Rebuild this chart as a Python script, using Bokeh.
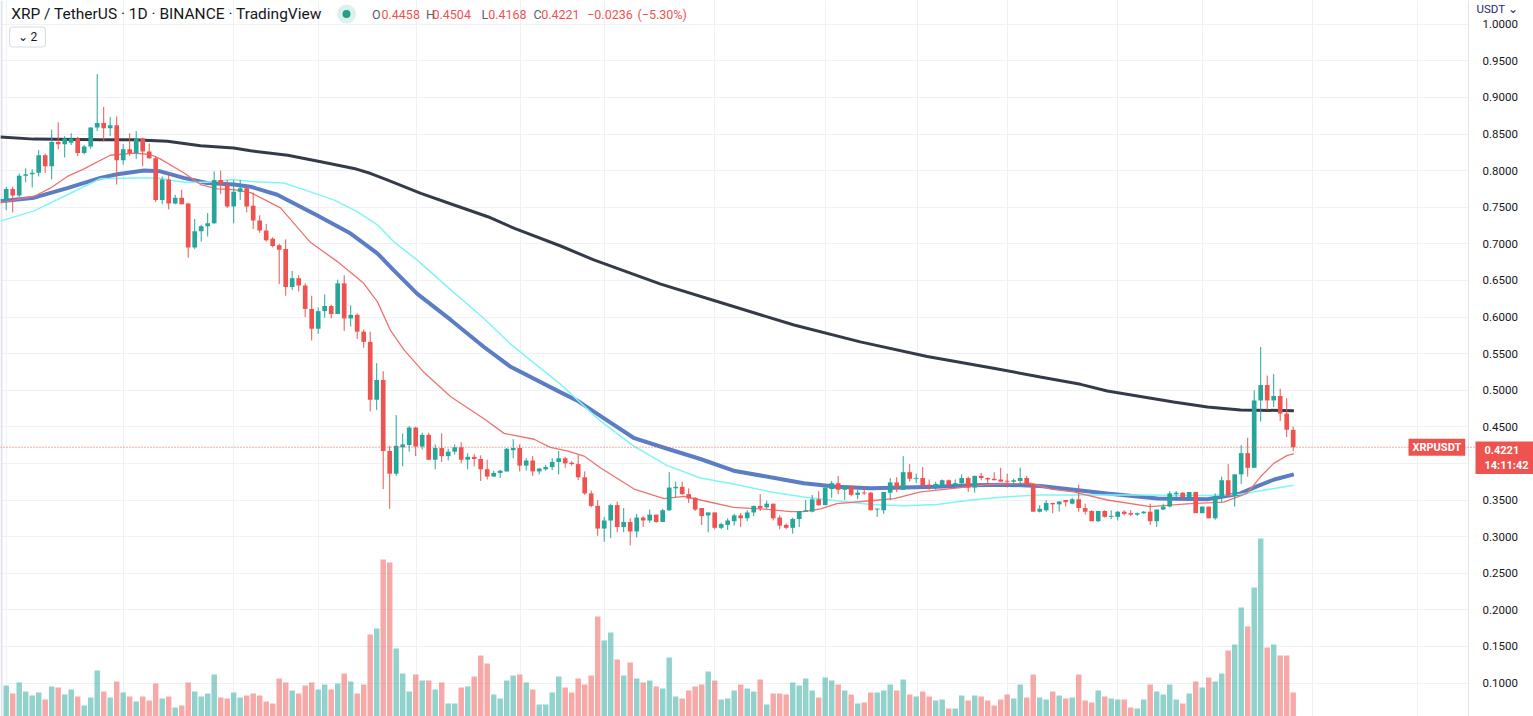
from bokeh.plotting import figure
from bokeh.models import (Range1d, FixedTicker, PrintfTickFormatter, Label, Span,
                          ColumnDataSource, Grid, LinearAxis, BoxAnnotation)
from bokeh.embed import file_html
from bokeh.resources import INLINE

# ---------------- data (daily candles, XRP/USDT) ----------------
opens = [
    0.759, 0.775, 0.766, 0.793, 0.795, 0.797, 0.821, 0.806, 0.839, 0.836,
    0.838, 0.844, 0.824, 0.833, 0.859, 0.865, 0.858, 0.862, 0.814, 0.829,
    0.824, 0.844, 0.826, 0.817, 0.760, 0.788, 0.755, 0.763, 0.755, 0.695,
    0.717, 0.724, 0.728, 0.787, 0.781, 0.751, 0.771, 0.776, 0.752, 0.732,
    0.718, 0.707, 0.698, 0.693, 0.641, 0.653, 0.643, 0.611, 0.584, 0.608,
    0.615, 0.604, 0.646, 0.598, 0.603, 0.580, 0.566, 0.487, 0.514, 0.417,
    0.386, 0.422, 0.425, 0.449, 0.423, 0.439, 0.405, 0.421, 0.410, 0.416,
    0.422, 0.405, 0.409, 0.406, 0.392, 0.382, 0.387, 0.389, 0.418, 0.421,
    0.397, 0.404, 0.389, 0.392, 0.395, 0.402, 0.407, 0.401, 0.399, 0.381,
    0.359, 0.342, 0.311, 0.322, 0.343, 0.313, 0.320, 0.307, 0.326, 0.322,
    0.330, 0.320, 0.336, 0.366, 0.368, 0.358, 0.353, 0.339, 0.329, 0.333,
    0.312, 0.316, 0.321, 0.329, 0.325, 0.333, 0.342, 0.340, 0.345, 0.326,
    0.316, 0.312, 0.324, 0.334, 0.334, 0.351, 0.343, 0.365, 0.373, 0.364,
    0.368, 0.357, 0.360, 0.360, 0.337, 0.336, 0.360, 0.374, 0.364, 0.388,
    0.379, 0.380, 0.371, 0.368, 0.370, 0.377, 0.370, 0.373, 0.380, 0.367,
    0.383, 0.380, 0.379, 0.378, 0.376, 0.375, 0.376, 0.380, 0.372, 0.334,
    0.336, 0.346, 0.344, 0.350, 0.345, 0.351, 0.339, 0.335, 0.321, 0.335,
    0.327, 0.327, 0.334, 0.332, 0.330, 0.332, 0.334, 0.321, 0.337, 0.341,
    0.358, 0.360, 0.354, 0.361, 0.332, 0.341, 0.325, 0.355, 0.377, 0.356,
    0.385, 0.414, 0.394, 0.486, 0.507, 0.486, 0.492, 0.468, 0.4458,
]
highs = [
    0.778, 0.778, 0.796, 0.803, 0.802, 0.828, 0.823, 0.856, 0.866, 0.847,
    0.851, 0.846, 0.835, 0.859, 0.932, 0.887, 0.873, 0.874, 0.836, 0.851,
    0.854, 0.845, 0.837, 0.820, 0.792, 0.795, 0.767, 0.774, 0.756, 0.734,
    0.726, 0.742, 0.799, 0.800, 0.787, 0.787, 0.787, 0.779, 0.770, 0.739,
    0.727, 0.709, 0.700, 0.706, 0.663, 0.657, 0.646, 0.629, 0.613, 0.631,
    0.617, 0.651, 0.657, 0.616, 0.605, 0.583, 0.580, 0.537, 0.526, 0.424,
    0.466, 0.441, 0.451, 0.450, 0.442, 0.442, 0.426, 0.441, 0.420, 0.426,
    0.429, 0.414, 0.413, 0.411, 0.405, 0.390, 0.391, 0.421, 0.433, 0.426,
    0.407, 0.410, 0.394, 0.398, 0.407, 0.417, 0.409, 0.403, 0.412, 0.389,
    0.363, 0.350, 0.327, 0.345, 0.348, 0.339, 0.325, 0.331, 0.328, 0.337,
    0.330, 0.338, 0.388, 0.375, 0.375, 0.366, 0.354, 0.339, 0.333, 0.333,
    0.319, 0.325, 0.331, 0.332, 0.336, 0.342, 0.358, 0.349, 0.345, 0.329,
    0.318, 0.326, 0.335, 0.350, 0.357, 0.362, 0.367, 0.376, 0.383, 0.369,
    0.370, 0.364, 0.368, 0.361, 0.338, 0.361, 0.380, 0.381, 0.410, 0.399,
    0.386, 0.395, 0.378, 0.375, 0.378, 0.378, 0.378, 0.385, 0.382, 0.383,
    0.387, 0.381, 0.388, 0.394, 0.386, 0.379, 0.394, 0.383, 0.372, 0.343,
    0.350, 0.346, 0.348, 0.350, 0.353, 0.371, 0.345, 0.336, 0.335, 0.336,
    0.336, 0.335, 0.336, 0.336, 0.333, 0.335, 0.345, 0.337, 0.345, 0.362,
    0.362, 0.361, 0.361, 0.361, 0.341, 0.341, 0.359, 0.382, 0.399, 0.385,
    0.425, 0.435, 0.500, 0.559, 0.520, 0.522, 0.502, 0.489, 0.4504,
]
lows = [
    0.746, 0.743, 0.764, 0.784, 0.777, 0.792, 0.797, 0.788, 0.829, 0.818,
    0.835, 0.820, 0.822, 0.830, 0.854, 0.840, 0.847, 0.781, 0.808, 0.820,
    0.816, 0.806, 0.816, 0.757, 0.754, 0.747, 0.754, 0.754, 0.681, 0.693,
    0.703, 0.710, 0.727, 0.768, 0.749, 0.728, 0.760, 0.743, 0.720, 0.715,
    0.703, 0.695, 0.645, 0.629, 0.637, 0.635, 0.600, 0.568, 0.577, 0.599,
    0.598, 0.604, 0.581, 0.587, 0.570, 0.558, 0.471, 0.473, 0.365, 0.338,
    0.383, 0.396, 0.416, 0.410, 0.419, 0.405, 0.392, 0.402, 0.404, 0.412,
    0.400, 0.392, 0.396, 0.376, 0.378, 0.382, 0.380, 0.389, 0.407, 0.389,
    0.390, 0.383, 0.385, 0.390, 0.391, 0.385, 0.394, 0.397, 0.377, 0.357,
    0.340, 0.301, 0.293, 0.298, 0.306, 0.306, 0.288, 0.299, 0.313, 0.319,
    0.319, 0.320, 0.335, 0.353, 0.357, 0.346, 0.335, 0.316, 0.306, 0.310,
    0.310, 0.309, 0.315, 0.313, 0.321, 0.328, 0.335, 0.338, 0.322, 0.310,
    0.310, 0.304, 0.313, 0.334, 0.333, 0.342, 0.343, 0.353, 0.358, 0.350,
    0.355, 0.351, 0.357, 0.336, 0.327, 0.331, 0.350, 0.361, 0.364, 0.375,
    0.373, 0.368, 0.364, 0.364, 0.367, 0.368, 0.367, 0.370, 0.361, 0.360,
    0.377, 0.372, 0.377, 0.375, 0.367, 0.368, 0.370, 0.369, 0.334, 0.333,
    0.334, 0.332, 0.334, 0.341, 0.344, 0.334, 0.330, 0.321, 0.320, 0.326,
    0.324, 0.322, 0.329, 0.328, 0.328, 0.331, 0.316, 0.313, 0.336, 0.340,
    0.354, 0.349, 0.349, 0.332, 0.332, 0.325, 0.323, 0.347, 0.356, 0.341,
    0.372, 0.382, 0.394, 0.457, 0.473, 0.477, 0.458, 0.436, 0.4168,
]
closes = [
    0.775, 0.766, 0.793, 0.795, 0.797, 0.821, 0.806, 0.839, 0.836, 0.844,
    0.844, 0.824, 0.833, 0.859, 0.865, 0.858, 0.862, 0.814, 0.829, 0.824,
    0.844, 0.826, 0.817, 0.760, 0.788, 0.755, 0.763, 0.754, 0.695, 0.717,
    0.724, 0.728, 0.787, 0.781, 0.751, 0.771, 0.776, 0.751, 0.732, 0.718,
    0.705, 0.697, 0.692, 0.641, 0.653, 0.643, 0.611, 0.584, 0.608, 0.615,
    0.604, 0.646, 0.598, 0.603, 0.580, 0.566, 0.487, 0.514, 0.417, 0.386,
    0.424, 0.426, 0.449, 0.423, 0.439, 0.405, 0.421, 0.410, 0.416, 0.422,
    0.405, 0.409, 0.406, 0.392, 0.382, 0.387, 0.390, 0.420, 0.421, 0.397,
    0.404, 0.389, 0.393, 0.395, 0.402, 0.407, 0.400, 0.399, 0.381, 0.359,
    0.342, 0.311, 0.322, 0.343, 0.313, 0.320, 0.307, 0.326, 0.322, 0.330,
    0.320, 0.336, 0.367, 0.368, 0.358, 0.352, 0.337, 0.328, 0.333, 0.312,
    0.317, 0.322, 0.329, 0.325, 0.333, 0.342, 0.339, 0.345, 0.325, 0.315,
    0.312, 0.324, 0.335, 0.336, 0.351, 0.343, 0.367, 0.373, 0.364, 0.369,
    0.357, 0.360, 0.359, 0.336, 0.338, 0.361, 0.374, 0.367, 0.388, 0.379,
    0.380, 0.370, 0.369, 0.372, 0.377, 0.370, 0.373, 0.380, 0.367, 0.383,
    0.380, 0.378, 0.377, 0.375, 0.375, 0.377, 0.380, 0.371, 0.334, 0.338,
    0.346, 0.344, 0.348, 0.347, 0.351, 0.339, 0.334, 0.321, 0.335, 0.327,
    0.328, 0.334, 0.331, 0.330, 0.332, 0.334, 0.321, 0.337, 0.341, 0.359,
    0.360, 0.354, 0.361, 0.332, 0.341, 0.325, 0.355, 0.377, 0.356, 0.385,
    0.414, 0.394, 0.486, 0.507, 0.486, 0.492, 0.468, 0.446, 0.4221,
]
volumes = [
    31, 23, 34, 25, 21, 24, 17, 30, 29, 22,
    27, 20, 11, 19, 46, 25, 19, 35, 24, 20,
    15, 20, 16, 33, 18, 20, 9, 11, 34, 25,
    20, 23, 42, 19, 18, 24, 19, 21, 23, 21,
    15, 13, 38, 34, 26, 23, 31, 34, 27, 32,
    27, 33, 43, 35, 23, 32, 82, 88, 157, 154,
    68, 43, 25, 42, 36, 36, 27, 34, 13, 13,
    29, 30, 40, 61, 53, 22, 18, 36, 41, 42,
    34, 27, 12, 12, 24, 40, 29, 24, 38, 32,
    41, 100, 76, 84, 57, 41, 54, 38, 34, 36,
    30, 28, 59, 20, 18, 26, 30, 32, 45, 36,
    17, 18, 26, 32, 28, 25, 37, 12, 23, 23,
    22, 34, 31, 38, 26, 19, 39, 36, 32, 26,
    22, 13, 14, 24, 24, 26, 32, 26, 37, 22,
    20, 25, 20, 16, 17, 8, 8, 21, 16, 21,
    20, 16, 11, 17, 22, 18, 32, 19, 42, 19,
    17, 25, 21, 18, 19, 42, 16, 14, 26, 20,
    18, 17, 17, 9, 8, 17, 32, 25, 22, 32,
    17, 13, 23, 35, 29, 39, 35, 43, 66, 72,
    109, 90, 129, 178, 69, 72, 61, 61, 24,
]

# moving averages (sampled along the curve: candle index, price)
ma_long_x = [-0.9, 4.3, 14.5, 19.6, 24.8, 29.9, 35.0, 37.6, 43.3, 48.4, 53.5, 56.1,
             58.7, 63.8, 68.9, 74.1, 78.2, 85.3, 90.4, 100.7, 110.9, 121.2, 131.4,
             141.7, 151.9, 159.1, 165.3, 169.4, 179.6, 184.8, 189.9, 198.1]
ma_long_y = [0.846, 0.843, 0.842, 0.842, 0.840, 0.834, 0.831, 0.827, 0.821, 0.812,
             0.803, 0.796, 0.787, 0.769, 0.753, 0.737, 0.721, 0.697, 0.678, 0.645,
             0.617, 0.589, 0.566, 0.546, 0.530, 0.518, 0.508, 0.499, 0.484, 0.477,
             0.473, 0.472]
ma_mid_x = [-0.9, 4.3, 9.4, 14.5, 17.1, 21.2, 23.7, 27.3, 30.9, 35.0, 37.6, 41.7,
            47.8, 53.0, 57.1, 59.6, 63.2, 68.4, 73.5, 77.6, 85.3, 87.8, 91.4, 96.5,
            101.7, 106.8, 111.9, 117.6, 122.7, 127.8, 133.0, 138.1, 143.2, 148.4,
            153.5, 159.1, 169.4, 177.1, 184.8, 189.9, 192.5, 195.1, 198.1]
ma_mid_y = [0.758, 0.763, 0.776, 0.790, 0.795, 0.800, 0.799, 0.790, 0.783, 0.781,
            0.778, 0.767, 0.739, 0.714, 0.687, 0.664, 0.632, 0.596, 0.559, 0.532,
            0.497, 0.486, 0.465, 0.435, 0.420, 0.406, 0.390, 0.381, 0.373, 0.368,
            0.366, 0.367, 0.368, 0.370, 0.371, 0.369, 0.359, 0.352, 0.351, 0.359,
            0.369, 0.378, 0.385]
ema_mid_x = [-0.9, 4.3, 9.4, 14.5, 19.6, 23.2, 27.3, 30.9, 35.0, 37.6, 42.7, 45.8,
             50.4, 54.0, 57.1, 59.6, 63.2, 68.4, 73.5, 77.6, 85.3, 91.4, 96.5, 101.7,
             106.8, 111.9, 117.6, 122.7, 127.8, 133.0, 138.1, 143.2, 148.4, 153.5,
             159.1, 174.5, 184.8, 189.9, 192.5, 198.1]
ema_mid_y = [0.731, 0.745, 0.767, 0.789, 0.790, 0.790, 0.784, 0.784, 0.788, 0.785,
             0.783, 0.774, 0.760, 0.744, 0.726, 0.703, 0.678, 0.637, 0.598, 0.563,
             0.508, 0.458, 0.424, 0.397, 0.380, 0.372, 0.361, 0.354, 0.349, 0.344,
             0.342, 0.344, 0.350, 0.354, 0.357, 0.357, 0.356, 0.358, 0.362, 0.370]
ma_short_x = [-0.9, 4.3, 6.8, 9.4, 11.9, 16.0, 19.6, 22.2, 23.7, 27.3, 29.9, 32.5,
              35.0, 37.6, 42.2, 46.8, 50.9, 55.0, 57.1, 59.1, 61.2, 64.2, 68.4, 73.5,
              76.6, 81.2, 83.7, 86.3, 88.9, 91.4, 96.6, 101.2, 104.3, 106.8, 111.9,
              116.0, 120.7, 122.7, 125.3, 127.8, 133.0, 136.6, 140.7, 145.8, 150.9,
              157.6, 160.7, 164.2, 169.4, 176.0, 182.2, 187.3, 190.9, 193.0, 195.0,
              197.1, 198.1]
ma_short_y = [0.756, 0.765, 0.776, 0.792, 0.802, 0.821, 0.824, 0.822, 0.816, 0.797,
              0.781, 0.775, 0.774, 0.770, 0.749, 0.702, 0.676, 0.646, 0.621, 0.582,
              0.555, 0.525, 0.491, 0.461, 0.441, 0.433, 0.422, 0.417, 0.410, 0.394,
              0.365, 0.352, 0.355, 0.350, 0.340, 0.338, 0.334, 0.334, 0.338, 0.345,
              0.349, 0.352, 0.361, 0.366, 0.371, 0.373, 0.365, 0.361, 0.350, 0.341,
              0.345, 0.347, 0.359, 0.382, 0.400, 0.411, 0.413]

price_ticks = [0.10, 0.15, 0.20, 0.25, 0.30, 0.35, 0.40, 0.45, 0.50, 0.55,
               0.60, 0.65, 0.70, 0.75, 0.80, 0.85, 0.90, 0.95, 1.00]
time_grid = [0.05, 18.05, 35.0, 48.1, 63.1, 79.1, 92.05, 109.0, 126.0, 140.2,
             154.0, 171.0, 184.0, 201.0, 217.1]

last_price = 0.4221
countdown = "14:11:42"
header_title = "XRP / TetherUS \u00b7 1D \u00b7 BINANCE \u00b7 TradingView"
ohlc_parts = [("O", "0.4458"), ("H", "0.4504"), ("L", "0.4168"), ("C", "0.4221")]
change_text = ["\u22120.0236", "(\u22125.30%)"]

# ---------------- styling ----------------
UP = "#26a69a"
DOWN = "#ef5350"
FONT = "Roboto"
TXT = "#131722"
GRID = "#f0f1f4"
W, H = 1533, 716


def px2x(px):
    # reference pixel column -> candle-index coordinate
    return (px - 5.7) / 6.5


def px2y(py):
    # reference pixel row -> price coordinate
    return 1 - (py - 23.7) / 732.0


AXIS_X = px2x(1468)

n = len(closes)
idx = list(range(n))
is_up = [c >= o for o, c in zip(opens, closes)]
body_bottom = [min(o, c) for o, c in zip(opens, closes)]
body_top = [max(max(o, c), b + 0.0013) for o, c, b in zip(opens, closes, body_bottom)]
colors = [UP if u else DOWN for u in is_up]

src = ColumnDataSource(dict(x=idx, h=highs, l=lows, top=body_top, bottom=body_bottom,
                            color=colors, vol=volumes))

p = figure(width=W, height=H, output_backend="svg", toolbar_location=None,
           x_range=Range1d(px2x(0), px2x(W)), y_range=Range1d(px2y(H), px2y(0)),
           x_axis_location=None, y_axis_location=None, min_border=0)
p.outline_line_color = None
p.background_fill_color = "white"
p.border_fill_color = "white"

# grids
ygrids = list(p.ygrid)
if not ygrids:
    g = Grid(dimension=1)
    p.add_layout(g)
    ygrids = [g]
for g in ygrids:
    g.ticker = FixedTicker(ticks=price_ticks)
    g.grid_line_color = GRID
xgrids = list(p.xgrid)
if not xgrids:
    g = Grid(dimension=0)
    p.add_layout(g)
    xgrids = [g]
for g in xgrids:
    g.ticker = FixedTicker(ticks=time_grid)
    g.grid_line_color = GRID

# blank price-scale area to the right of the chart, thin strip on the left edge
p.add_layout(BoxAnnotation(left=AXIS_X, fill_color="white", fill_alpha=1.0,
                           line_color=None, level="underlay"))
p.add_layout(BoxAnnotation(right=px2x(2), fill_color="#e0e3eb", fill_alpha=1.0,
                           line_color=None, level="underlay"))

# price axis (drawn at the chart's right edge)
ax = LinearAxis(fixed_location=AXIS_X)
ax.ticker = FixedTicker(ticks=price_ticks)
ax.formatter = PrintfTickFormatter(format="%.4f")
ax.major_tick_line_color = None
ax.minor_tick_line_color = None
ax.axis_line_color = "#e0e3eb"
ax.major_label_text_font = FONT
ax.major_label_text_font_size = "11.5px"
ax.major_label_text_color = TXT
ax.major_label_standoff = 8
p.add_layout(ax, "right")

# volume
p.extra_y_ranges = {"vol": Range1d(0, H)}
p.vbar(x="x", width=0.84, top="vol", bottom=0, y_range_name="vol", source=src,
       fill_color="color", fill_alpha=0.5, line_color=None)

# moving averages
p.line(ma_long_x, ma_long_y, line_color="#343b48", line_width=3)
p.line(ma_mid_x, ma_mid_y, line_color="#5a7dc6", line_width=4)
p.line(ema_mid_x, ema_mid_y, line_color="#7ff5f5", line_width=1.5)
p.line(ma_short_x, ma_short_y, line_color="#f07270", line_width=1.3)

# candles
p.segment(x0="x", y0="l", x1="x", y1="h", line_color="color", line_width=1, source=src)
p.vbar(x="x", width=0.72, top="top", bottom="bottom", fill_color="color",
       line_color=None, source=src)

# last price line
p.add_layout(Span(location=last_price, dimension="width", line_color=DOWN,
                  line_width=1, line_dash="1 2"))

# header
p.add_layout(Label(x=px2x(10.7), y=px2y(13.5), text=header_title, text_font=FONT,
                   text_font_size="15.5px", text_color=TXT, text_baseline="middle"))
p.scatter([px2x(346)], [px2y(13.5)], size=19, fill_color="#dcf1ed", line_color=None)
p.scatter([px2x(346)], [px2y(13.5)], size=8, fill_color="#22a085", line_color=None)
letter_px = [371.5, 425.5, 481.0, 533.0]
value_px = [381.0, 432.0, 487.7, 540.7]
for (letter, val), lx, vx in zip(ohlc_parts, letter_px, value_px):
    p.add_layout(Label(x=px2x(lx), y=px2y(13.5), text=letter, text_font=FONT,
                       text_font_size="12.5px", text_color="#5d606b",
                       text_baseline="middle"))
    p.add_layout(Label(x=px2x(vx), y=px2y(13.5), text=val, text_font=FONT,
                       text_font_size="12.5px", text_color=DOWN,
                       text_baseline="middle"))
for t, cx in zip(change_text, [586.7, 637.0]):
    p.add_layout(Label(x=px2x(cx), y=px2y(13.5), text=t, text_font=FONT,
                       text_font_size="12.5px", text_color=DOWN,
                       text_baseline="middle"))

# collapse button
p.add_layout(Label(x=px2x(27), y=px2y(36.5), text="\u2304 2", text_font=FONT,
                   text_font_size="12px", text_color=TXT, text_align="center",
                   text_baseline="middle", border_line_color="#d6d9e0",
                   border_line_width=1, background_fill_color="white",
                   padding=(8, 3), border_radius=3))

# symbol tag on price line
p.add_layout(Label(x=px2x(1408), y=last_price, text="XRPUSDT", text_font=FONT,
                   text_font_size="11px", text_font_style="bold", text_color="white",
                   text_baseline="middle", background_fill_color=DOWN,
                   padding=(4, 2)))

# price tag on the price scale
p.add_layout(Label(x=px2x(1475), y=px2y(441), text=f"{last_price:.4f}\n{countdown}",
                   text_font=FONT, text_font_size="11px", text_font_style="bold",
                   text_color="white", text_baseline="top",
                   background_fill_color=DOWN, padding=(9, 2)))

# currency label on top of the price scale
p.add_layout(Label(x=px2x(1476), y=px2y(8), text="USDT \u2304", text_font=FONT,
                   text_font_size="11.5px", text_color="#2a2a6e",
                   text_baseline="middle"))

open("out.html", "w").write(file_html(p, INLINE))
